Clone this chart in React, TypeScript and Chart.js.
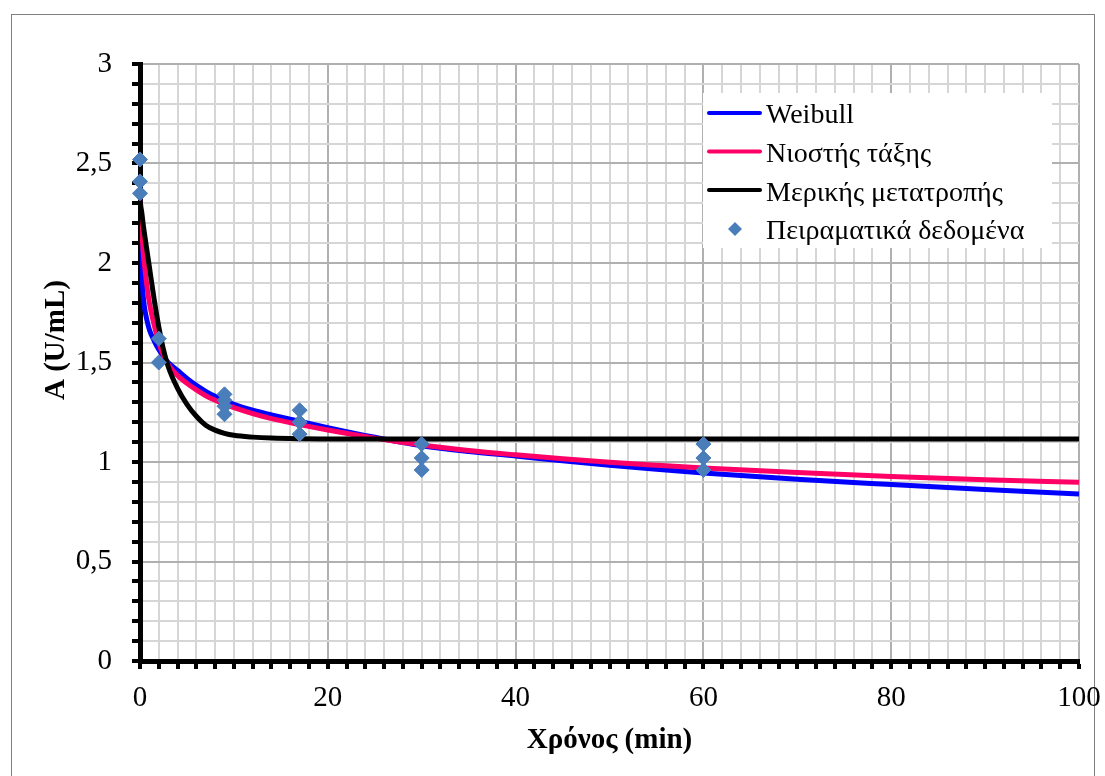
import React, { useEffect, useRef } from 'react';
import { Chart, registerables } from 'chart.js';

Chart.register(...registerables);

// Time points (min) used to sample the fitted curves
const curveTimes = [0, 0.1, 0.2, 0.35, 0.5, 0.75, 1, 1.5, 2, 2.5, 3, 4, 5, 6, 7, 8, 9, 10, 12, 14, 17, 20, 25, 30, 35, 40, 45, 50, 55, 60, 70, 80, 90, 100];

const weibullValues = [2.32, 2.08, 1.96, 1.83, 1.77, 1.71, 1.665, 1.61, 1.565, 1.53, 1.5, 1.46, 1.42, 1.385, 1.355, 1.33, 1.31, 1.29, 1.26, 1.237, 1.205, 1.173, 1.124, 1.082, 1.053, 1.03, 1.006, 0.983, 0.963, 0.945, 0.913, 0.887, 0.862, 0.839];

const nthOrderValues = [2.32, 2.24, 2.16, 2.05, 1.98, 1.88, 1.8, 1.69, 1.6, 1.535, 1.49, 1.435, 1.395, 1.362, 1.333, 1.31, 1.29, 1.273, 1.243, 1.218, 1.188, 1.161, 1.12, 1.085, 1.058, 1.036, 1.016, 0.999, 0.984, 0.97, 0.947, 0.927, 0.911, 0.898];

const partialConvValues = [2.32, 2.28, 2.25, 2.19, 2.14, 2.06, 1.98, 1.82, 1.68, 1.565, 1.48, 1.37, 1.29, 1.23, 1.185, 1.16, 1.144, 1.134, 1.125, 1.12, 1.117, 1.116, 1.115, 1.115, 1.115, 1.115, 1.115, 1.115, 1.115, 1.115, 1.115, 1.115, 1.115, 1.115];

// Experimental data
const expTimes = [0, 0, 0, 2, 2, 9, 9, 9, 9, 17, 17, 17, 30, 30, 30, 60, 60, 60];
const expValues = [2.52, 2.41, 2.35, 1.62, 1.5, 1.34, 1.31, 1.28, 1.24, 1.26, 1.2, 1.14, 1.09, 1.02, 0.96, 1.09, 1.02, 0.96];

const seriesLabels = ['Weibull', 'Νιοστής τάξης', 'Μερικής μετατροπής', 'Πειραματικά δεδομένα'];
const seriesColors = ['#0000ff', '#ff0066', '#000000', '#4a7ebb'];

const xTitle = 'Χρόνος (min)';
const yTitle = 'A (U/mL)';

const FONT = '"Liberation Serif", "Times New Roman", serif';

export default function App() {
  const canvasRef = useRef<HTMLCanvasElement | null>(null);

  useEffect(() => {
    const canvas = canvasRef.current;
    if (!canvas) return;

    const toXY = (xs: number[], ys: number[]) => xs.map((x, i) => ({ x, y: ys[i] }));

    const framePlugin = {
      id: 'frame',
      beforeDraw(chart: any) {
        const ctx = chart.ctx;
        ctx.save();
        ctx.fillStyle = '#ffffff';
        ctx.fillRect(0, 0, chart.width, chart.height);
        ctx.strokeStyle = '#7f7f7f';
        ctx.lineWidth = 1;
        ctx.strokeRect(11.5, 14.5, 1083, 790);
        ctx.restore();
      },
      afterDraw(chart: any) {
        const ctx = chart.ctx;
        ctx.save();
        // y-axis title
        ctx.translate(57, 340);
        ctx.rotate(-Math.PI / 2);
        ctx.font = `bold 29px ${FONT}`;
        ctx.fillStyle = '#000';
        ctx.textAlign = 'center';
        ctx.textBaseline = 'middle';
        ctx.fillText(yTitle, 0, 0);
        ctx.restore();

        // legend
        ctx.save();
        ctx.fillStyle = '#ffffff';
        ctx.fillRect(703, 93, 349, 155);
        const rows = [113, 151.5, 190];
        for (let i = 0; i < 3; i++) {
          ctx.strokeStyle = seriesColors[i];
          ctx.lineWidth = 4;
          ctx.lineCap = 'round';
          ctx.beginPath();
          ctx.moveTo(709, rows[i]);
          ctx.lineTo(760, rows[i]);
          ctx.stroke();
        }
        // diamond
        ctx.fillStyle = seriesColors[3];
        ctx.beginPath();
        const cx = 735, cy = 229, r = 7;
        ctx.moveTo(cx, cy - r);
        ctx.lineTo(cx + r, cy);
        ctx.lineTo(cx, cy + r);
        ctx.lineTo(cx - r, cy);
        ctx.closePath();
        ctx.fill();
        ctx.font = `28px ${FONT}`;
        ctx.fillStyle = '#000';
        ctx.textAlign = 'left';
        ctx.textBaseline = 'alphabetic';
        const baselines = [123, 162, 200.5, 239];
        for (let i = 0; i < 4; i++) {
          ctx.fillText(seriesLabels[i], 766, baselines[i]);
        }
        ctx.restore();
      },
    };

    const chart = new Chart(canvas, {
      type: 'scatter',
      data: {
        datasets: [
          {
            label: seriesLabels[3],
            data: toXY(expTimes, expValues),
            showLine: false,
            pointStyle: 'rectRot',
            pointRadius: 7.5,
            backgroundColor: seriesColors[3],
            borderColor: seriesColors[3],
            borderWidth: 1,
            clip: false,
            order: 0,
          },
          {
            label: seriesLabels[2],
            data: toXY(curveTimes, partialConvValues),
            showLine: true,
            borderColor: seriesColors[2],
            borderWidth: 5,
            pointRadius: 0,
            cubicInterpolationMode: 'monotone',
            order: 1,
          },
          {
            label: seriesLabels[1],
            data: toXY(curveTimes, nthOrderValues),
            showLine: true,
            borderColor: seriesColors[1],
            borderWidth: 5,
            pointRadius: 0,
            cubicInterpolationMode: 'monotone',
            order: 2,
          },
          {
            label: seriesLabels[0],
            data: toXY(curveTimes, weibullValues),
            showLine: true,
            borderColor: seriesColors[0],
            borderWidth: 5,
            pointRadius: 0,
            cubicInterpolationMode: 'monotone',
            order: 3,
          },
        ] as any,
      },
      options: {
        responsive: false,
        animation: false,
        layout: { padding: { left: 0, top: 64, right: 26, bottom: 0 } },
        plugins: {
          legend: { display: false },
          tooltip: { enabled: false },
        },
        scales: {
          x: {
            type: 'linear',
            min: 0,
            max: 100,
            afterFit: (scale: any) => {
              scale.height = 115;
              scale.paddingLeft = 0;
              scale.paddingRight = 0;
            },
            ticks: {
              stepSize: 2,
              autoSkip: false,
              maxRotation: 0,
              minRotation: 0,
              padding: 12,
              color: '#000',
              font: { family: FONT, size: 29 },
              callback: (v: any) => (Number(v) % 20 === 0 ? String(v) : ''),
            },
            grid: {
              color: (ctx: any) => (ctx.tick && ctx.tick.value % 20 === 0 ? '#b0b0b0' : '#d6d6d6'),
              lineWidth: 2,
              tickColor: '#000',
              tickWidth: 4,
              tickLength: 8,
            },
            border: { color: '#000', width: 5 },
            title: {
              display: true,
              text: xTitle,
              color: '#000',
              font: { family: FONT, size: 29, weight: 'bold' },
              padding: { top: 0, bottom: 18 },
            },
          },
          y: {
            type: 'linear',
            min: 0,
            max: 3,
            afterFit: (scale: any) => {
              scale.width = 140;
              scale.paddingTop = 0;
              scale.paddingBottom = 0;
            },
            ticks: {
              stepSize: 0.1,
              autoSkip: false,
              padding: 20,
              color: '#000',
              font: { family: FONT, size: 29 },
              callback: (v: any) => {
                const n = Number(v);
                return Math.round(n * 10) % 5 === 0 ? String(Math.round(n * 10) / 10).replace('.', ',') : '';
              },
            },
            grid: {
              color: (ctx: any) => (ctx.tick && Math.round(ctx.tick.value * 10) % 5 === 0 ? '#b0b0b0' : '#d6d6d6'),
              lineWidth: 2,
              tickColor: '#000',
              tickWidth: 4,
              tickLength: 8,
            },
            border: { color: '#000', width: 5 },
          },
        },
      } as any,
      plugins: [framePlugin],
    });

    return () => chart.destroy();
  }, []);

  return (
    <div style={{ position: 'absolute', left: 0, top: 0, width: 1105, height: 776 }}>
      <canvas ref={canvasRef} width={1105} height={776} style={{ display: 'block' }} />
    </div>
  );
}
